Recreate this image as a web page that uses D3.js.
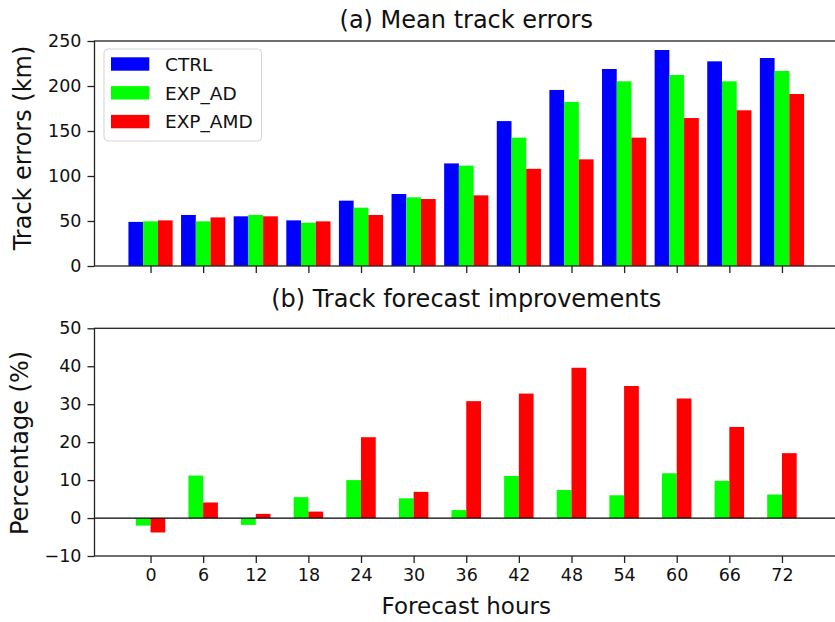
<!DOCTYPE html>
<html>
<head>
<meta charset="utf-8">
<script src="https://cdn.jsdelivr.net/npm/d3@7"></script>
<style>
  body { margin: 0; background: #fff; }
  svg { display: block; font-family: "DejaVu Sans", sans-serif; }
</style>
</head>
<body>
<svg id="chart" width="835" height="622"></svg>
<script>
const hours = [0, 6, 12, 18, 24, 30, 36, 42, 48, 54, 60, 66, 72];
const ctrl = [49, 56.7, 55.2, 50.7, 72.6, 80, 114, 161, 195.6, 218.9, 240, 227.4, 231.1];
const expAD = [49.6, 49.6, 56.7, 48.1, 64.8, 76.3, 111.5, 142.6, 182.2, 205.2, 212.2, 205.2, 216.7];
const expAMD = [50.7, 54, 55.2, 49.6, 56.7, 74.4, 78.5, 108, 118.5, 142.6, 164.4, 173, 191.1];
const impAD = [-2.0, 11.2, -1.8, 5.5, 10.0, 5.2, 2.1, 11.1, 7.4, 6.0, 11.8, 9.8, 6.2];
const impAMD = [-3.8, 4.1, 1.1, 1.7, 21.3, 6.9, 30.8, 32.8, 39.6, 34.8, 31.5, 24.0, 17.1];
const errTicks = [0, 50, 100, 150, 200, 250];
const pctTicks = [-10, 0, 10, 20, 30, 40, 50];
const seriesNames = ["CTRL", "EXP_AD", "EXP_AMD"];
const seriesColors = ["#0000ff", "#00ff00", "#ff0000"];

const svg = d3.select("#chart");
const left = 94.5, right = 838;
const barW = 1.68; // in hours

const x = d3.scaleLinear().domain([-6.39, 78.39]).range([left, right]);
const yTop = d3.scaleLinear().domain([0, 250]).range([266, 41]);
const yBot = d3.scaleLinear().domain([-10, 50]).range([556, 328.3]);

const ink = "#222";

function frame(y) {
  const [y0, y1] = y.range();
  svg.append("rect")
    .attr("x", left).attr("y", y1)
    .attr("width", right - left).attr("height", y0 - y1)
    .attr("fill", "none").attr("stroke", ink).attr("stroke-width", 1.3);
}

function yAxis(y, ticks) {
  const g = svg.append("g")
    .attr("transform", `translate(${left},0)`)
    .call(d3.axisLeft(y).tickValues(ticks).tickSize(7).tickPadding(6)
      .tickFormat(d => d < 0 ? "\u2212" + Math.abs(d) : d));
  g.select(".domain").remove();
  g.selectAll("line").attr("stroke", ink).attr("stroke-width", 1.3);
  g.selectAll("text").attr("font-size", 17.5).attr("fill", "#111")
    .attr("font-family", "DejaVu Sans");
  return g;
}

function xAxis(y0, labels) {
  const g = svg.append("g")
    .attr("transform", `translate(0,${y0})`)
    .call(d3.axisBottom(x).tickValues(hours).tickSize(7).tickPadding(6)
      .tickFormat(labels ? d => d : () => ""));
  g.select(".domain").remove();
  g.selectAll("line").attr("stroke", ink).attr("stroke-width", 1.3);
  g.selectAll("text").attr("font-size", 17.5).attr("fill", "#111")
    .attr("font-family", "DejaVu Sans");
}

// (a) Mean track errors
const topSeries = [ctrl, expAD, expAMD];
topSeries.forEach((vals, k) => {
  svg.append("g").selectAll("rect")
    .data(vals)
    .join("rect")
    .attr("x", (d, i) => x(hours[i] + (k - 1.5) * barW))
    .attr("width", x(barW) - x(0))
    .attr("y", d => yTop(d))
    .attr("height", d => yTop(0) - yTop(d))
    .attr("fill", seriesColors[k]);
});
frame(yTop);
yAxis(yTop, errTicks);
xAxis(266, false);

svg.append("text")
  .attr("x", (left + right) / 2).attr("y", 27.5)
  .attr("text-anchor", "middle").attr("font-size", 24).attr("fill", "#111")
  .text("(a) Mean track errors");
svg.append("text")
  .attr("transform", "translate(31,148) rotate(-90)")
  .attr("text-anchor", "middle").attr("font-size", 24).attr("fill", "#111")
  .text("Track errors (km)");

// legend
const lg = svg.append("g");
lg.append("rect")
  .attr("x", 104).attr("y", 49).attr("width", 157.5).attr("height", 92)
  .attr("rx", 4).attr("fill", "#fff").attr("fill-opacity", 0.8)
  .attr("stroke", "#d5d5d5").attr("stroke-width", 1);
seriesNames.forEach((name, k) => {
  const cy = 64 + k * 28.8;
  lg.append("rect")
    .attr("x", 111).attr("y", cy - 6.7).attr("width", 38.3).attr("height", 13.4)
    .attr("fill", seriesColors[k]);
  lg.append("text")
    .attr("x", 165).attr("y", cy + 6.8)
    .attr("font-size", 18.5).attr("fill", "#111")
    .text(name);
});

// (b) Track forecast improvements
const botSeries = [impAD, impAMD];
botSeries.forEach((vals, k) => {
  svg.append("g").selectAll("rect")
    .data(vals)
    .join("rect")
    .attr("x", (d, i) => x(hours[i] + (k - 1) * barW))
    .attr("width", x(barW) - x(0))
    .attr("y", d => yBot(Math.max(d, 0)))
    .attr("height", d => Math.abs(yBot(d) - yBot(0)))
    .attr("fill", seriesColors[k + 1]);
});
svg.append("line")
  .attr("x1", left).attr("x2", right)
  .attr("y1", yBot(0)).attr("y2", yBot(0))
  .attr("stroke", "#000").attr("stroke-width", 1.2);
frame(yBot);
yAxis(yBot, pctTicks);
xAxis(556, true);

svg.append("text")
  .attr("x", (left + right) / 2).attr("y", 307)
  .attr("text-anchor", "middle").attr("font-size", 24).attr("fill", "#111")
  .text("(b) Track forecast improvements");
svg.append("text")
  .attr("transform", "translate(28,443) rotate(-90)")
  .attr("text-anchor", "middle").attr("font-size", 24).attr("fill", "#111")
  .text("Percentage (%)");
svg.append("text")
  .attr("x", (left + right) / 2).attr("y", 614)
  .attr("text-anchor", "middle").attr("font-size", 23).attr("fill", "#111")
  .text("Forecast hours");
</script>
</body>
</html>
